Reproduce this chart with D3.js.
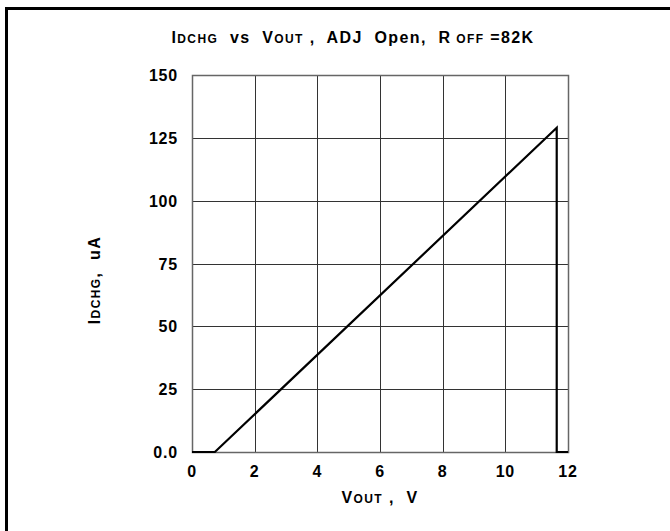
<!DOCTYPE html>
<html>
<head>
<meta charset="utf-8">
<script src="https://cdn.jsdelivr.net/npm/d3@7"></script>
<style>
  body { margin: 0; background: #fff; }
  text { font-family: "Liberation Sans", Arial, sans-serif; font-weight: bold; fill: #000; white-space: pre; }
</style>
</head>
<body>
<svg width="670" height="531"></svg>
<script>
// curve points
var vout = [0, 0.73, 11.64, 11.64, 12];
var idchg = [0, 0, 129, 0, 0];
var xTicks = [0, 2, 4, 6, 8, 10, 12];
var yTicks = [0, 25, 50, 75, 100, 125, 150];
var yTickLabels = ["0.0", "25", "50", "75", "100", "125", "150"];

var svg = d3.select("svg"),
    plotLeft = 192, plotRight = 568, plotTop = 75, plotBottom = 452;

var x = d3.scaleLinear().domain([0, 12]).range([plotLeft, plotRight]),
    y = d3.scaleLinear().domain([0, 150]).range([plotBottom, plotTop]);

// outer frame, runs off the right and bottom edges
svg.append("rect")
    .attr("x", 6.5).attr("y", 8.5)
    .attr("width", 700).attr("height", 600)
    .attr("fill", "none").attr("stroke", "#000").attr("stroke-width", 3);

// grid
svg.append("g")
    .selectAll("line")
    .data(xTicks.slice(1, -1))
    .enter().append("line")
    .attr("x1", function(d) { return Math.round(x(d)) + 0.5; })
    .attr("x2", function(d) { return Math.round(x(d)) + 0.5; })
    .attr("y1", plotTop).attr("y2", plotBottom)
    .attr("stroke", "#333").attr("stroke-width", 1);

svg.append("g")
    .selectAll("line")
    .data(yTicks.slice(1, -1))
    .enter().append("line")
    .attr("y1", function(d) { return Math.round(y(d)) + 0.5; })
    .attr("y2", function(d) { return Math.round(y(d)) + 0.5; })
    .attr("x1", plotLeft).attr("x2", plotRight)
    .attr("stroke", "#333").attr("stroke-width", 1);

svg.append("rect")
    .attr("x", plotLeft + 0.5).attr("y", plotTop + 0.5)
    .attr("width", plotRight - plotLeft).attr("height", plotBottom - plotTop)
    .attr("fill", "none").attr("stroke", "#666").attr("stroke-width", 1.5);

// tick labels
svg.append("g")
    .selectAll("text")
    .data(xTicks)
    .enter().append("text")
    .attr("x", function(d) { return x(d); })
    .attr("y", 477)
    .attr("text-anchor", "middle")
    .style("font-size", "16px")
    .style("letter-spacing", "0.8px")
    .text(function(d) { return d; });

svg.append("g")
    .selectAll("text")
    .data(yTicks)
    .enter().append("text")
    .attr("x", 178)
    .attr("y", function(d) { return y(d) + 6; })
    .attr("text-anchor", "end")
    .style("font-size", "16px")
    .style("letter-spacing", "0.8px")
    .text(function(d, i) { return yTickLabels[i]; });

// data line
var line = d3.line()
    .x(function(d) { return x(d[0]); })
    .y(function(d) { return y(d[1]); });

svg.append("path")
    .datum(d3.zip(vout, idchg))
    .attr("d", line)
    .attr("fill", "none")
    .attr("stroke", "#000")
    .attr("stroke-width", 2.2);

// title with small-caps subscripts
var title = svg.append("text")
    .attr("x", 353).attr("y", 43)
    .attr("text-anchor", "middle")
    .style("font-size", "16px")
    .style("letter-spacing", "1.4px");
title.append("tspan").text("I");
title.append("tspan").style("font-size", "12px").text("DCHG");
title.append("tspan").text("  vs  V");
title.append("tspan").style("font-size", "12px").text("OUT");
title.append("tspan").text(" ,  ADJ  Open,  R");
title.append("tspan").style("font-size", "12px").text(" OFF");
title.append("tspan").text(" =82K");

// axis titles
var xl = svg.append("text")
    .attr("x", 380).attr("y", 503)
    .attr("text-anchor", "middle")
    .style("font-size", "16px")
    .style("letter-spacing", "1.4px");
xl.append("tspan").text("V");
xl.append("tspan").style("font-size", "12px").text("OUT");
xl.append("tspan").text(" ,  V");

var yl = svg.append("text")
    .attr("transform", "translate(100,280) rotate(-90)")
    .attr("text-anchor", "middle")
    .style("font-size", "16px")
    .style("letter-spacing", "1.4px");
yl.append("tspan").text("I");
yl.append("tspan").style("font-size", "12px").text("DCHG");
yl.append("tspan").text(",  uA");
</script>
</body>
</html>
